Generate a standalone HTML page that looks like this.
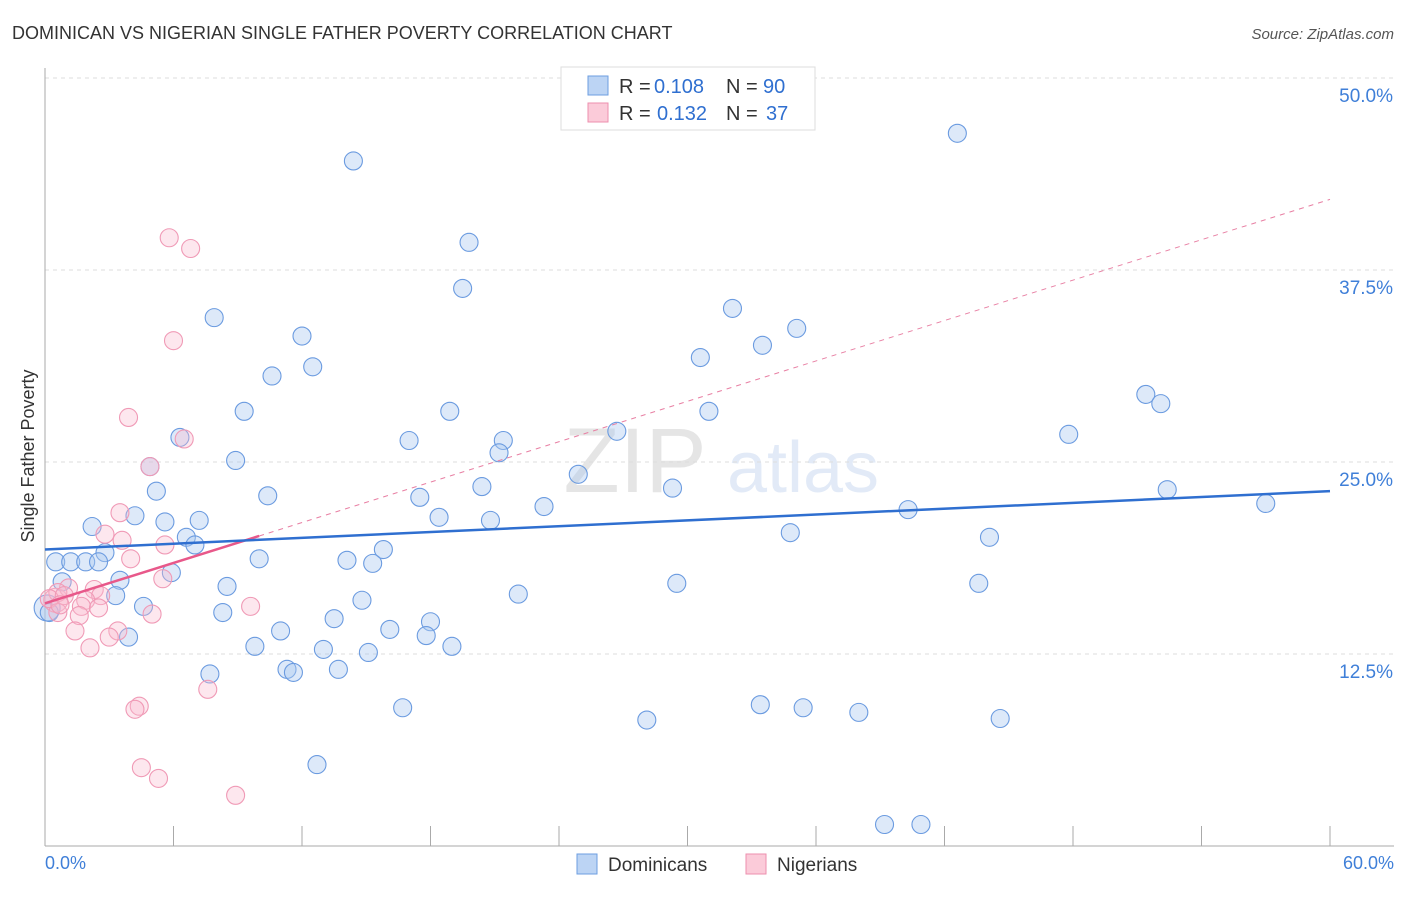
<!DOCTYPE html>
<html><head><meta charset="utf-8">
<style>
body{margin:0;background:#fff;font-family:"Liberation Sans",sans-serif;}
svg text{font-family:"Liberation Sans",sans-serif;}
</style></head>
<body>
<svg id="chart" width="1406" height="892" xmlns="http://www.w3.org/2000/svg">
<text x="12" y="39" font-size="18" fill="#333">DOMINICAN VS NIGERIAN SINGLE FATHER POVERTY CORRELATION CHART</text>
<text x="1394" y="39" font-size="15" fill="#555" font-style="italic" text-anchor="end">Source: ZipAtlas.com</text>
<text x="0" y="0" font-size="18" fill="#333" text-anchor="middle" transform="translate(34,456) rotate(-90)">Single Father Poverty</text>
<g opacity="0.25">
<text x="635" y="492" font-size="92" fill="#999" font-family="Liberation Serif" text-anchor="middle">ZIP</text>
<text x="803" y="492" font-size="72" fill="#8fb0e0" text-anchor="middle">atlas</text>
</g>
<g id="grid"></g><g id="axes"></g><g id="marks"></g>
<g>
<rect x="561" y="67" width="254" height="63" fill="#fff" stroke="#ddd"/>
<rect x="588" y="76" width="20" height="19" fill="#bcd4f4" stroke="#6d9ee0"/>
<rect x="588" y="103" width="20" height="19" fill="#fbcbd9" stroke="#ee8fae"/>
<text x="619" y="93" font-size="20" fill="#333">R =</text>
<text x="654" y="93" font-size="20" fill="#2f6fd0">0.108</text>
<text x="726" y="93" font-size="20" fill="#333">N =</text>
<text x="763" y="93" font-size="20" fill="#2f6fd0">90</text>
<text x="619" y="120" font-size="20" fill="#333">R =</text>
<text x="657" y="120" font-size="20" fill="#2f6fd0">0.132</text>
<text x="726" y="120" font-size="20" fill="#333">N =</text>
<text x="766" y="120" font-size="20" fill="#2f6fd0">37</text>
</g>
<g>
<rect x="577" y="854" width="20" height="20" fill="#bcd4f4" stroke="#6d9ee0"/>
<text x="608" y="871" font-size="19" fill="#333">Dominicans</text>
<rect x="746" y="854" width="20" height="20" fill="#fbcbd9" stroke="#ee8fae"/>
<text x="777" y="871" font-size="19" fill="#333">Nigerians</text>
</g>
</svg>
<script>
const yTicks=[12.5,25.0,37.5,50.0];
const yTickLabels=["12.5%","25.0%","37.5%","50.0%"];
const xTickLabels=["0.0%","60.0%"];
const domX=[0.1,4.9,42.6,14.4,19.8,19.5,7.9,12.0,32.1,35.1,33.5,30.6,12.5,10.6,51.4,52.1,9.3,18.9,31.0,26.7,47.8,17.0,21.4,6.3,21.2,8.9,24.9,20.4,29.3,52.4,5.2,10.4,17.5,23.3,57.0,40.3,4.2,18.4,20.8,5.6,7.2,2.2,34.8,6.6,44.1,7.0,2.8,15.8,10.0,14.1,15.3,0.5,1.2,1.9,2.5,5.9,3.5,8.5,29.5,43.6,0.8,3.3,22.1,14.8,4.6,8.3,0.2,13.5,18.0,11.0,16.1,17.8,3.9,9.8,13.0,19.0,15.1,11.3,11.6,13.7,7.7,16.7,33.4,35.4,28.1,38.0,44.6,12.7,39.2,40.9];
const domY=[15.5,24.7,46.4,44.6,39.3,36.3,34.4,33.2,35.0,33.7,32.6,31.8,31.2,30.6,29.4,28.8,28.3,28.3,28.3,27.0,26.8,26.4,26.4,26.6,25.6,25.1,24.2,23.4,23.3,23.2,23.1,22.8,22.7,22.1,22.3,21.9,21.5,21.4,21.2,21.1,21.2,20.8,20.4,20.1,20.1,19.6,19.1,19.3,18.7,18.6,18.4,18.5,18.5,18.5,18.5,17.8,17.3,16.9,17.1,17.1,17.2,16.3,16.4,16.0,15.6,15.2,15.2,14.8,14.6,14.0,14.1,13.7,13.6,13.0,12.8,13.0,12.6,11.5,11.3,11.5,11.2,9.0,9.2,9.0,8.2,8.7,8.3,5.3,1.4,1.4];
const nigX=[0.5,5.8,6.8,6.0,3.9,6.5,4.9,3.5,2.8,3.6,5.6,4.0,5.5,1.1,2.3,0.6,2.6,1.9,0.2,9.6,1.7,2.5,5.0,1.6,0.6,1.4,3.4,3.0,2.1,7.6,4.4,4.2,4.5,5.3,8.9,0.9,0.7];
const nigY=[16.0,39.6,38.9,32.9,27.9,26.5,24.7,21.7,20.3,19.9,19.6,18.7,17.4,16.8,16.7,16.5,16.3,16.0,16.1,15.6,15.6,15.5,15.1,15.0,15.2,14.0,14.0,13.6,12.9,10.2,9.1,8.9,5.1,4.4,3.3,16.3,15.7];
const domTrend=[19.3,23.1];
const nigTrend=[15.8,42.1];
const NS="http://www.w3.org/2000/svg";
const sx=v=>45+v/60*1285, sy=v=>846-v/50*768;
function mk(tag,attrs,parent){const e=document.createElementNS(NS,tag);for(const k in attrs)e.setAttribute(k,attrs[k]);document.getElementById(parent).appendChild(e);return e;}
yTicks.forEach((t,i)=>{
 const g=mk('line',{x1:45,x2:1394,y1:sy(t),y2:sy(t),stroke:'#ddd','stroke-dasharray':'4,4'},'grid');
 
 
 const l=mk('text',{x:1393,y:sy(t)+24,'font-size':19,fill:'#3f7fd8','text-anchor':'end'},'grid');
 l.textContent=yTickLabels[i];
 
 
});
const ax=mk('line',{x1:45,x2:45,y1:68,y2:846,stroke:'#aaa'},'axes');


const bx=mk('line',{x1:45,x2:1394,y1:846,y2:846,stroke:'#aaa'},'axes');


for(let i=0;i<=10;i++){const t=mk('line',{x1:sx(i*6),x2:sx(i*6),y1:826,y2:846,stroke:'#aaa'},'axes');
 
 }
[[0,'start',45],[60,'end',1394]].forEach((d,i)=>{const t=mk('text',{x:d[2],y:869,'font-size':18,fill:'#3f7fd8','text-anchor':d[1]},'axes');t.textContent=xTickLabels[i];
 
 });
domX.forEach((x,i)=>{const c=mk('circle',{cx:sx(x),cy:sy(domY[i]),r:i===0?13:9,fill:'rgba(170,200,240,0.4)',stroke:'#6b9be0','stroke-width':1.1},'marks');
 
 });
nigX.forEach((x,i)=>{const c=mk('circle',{cx:sx(x),cy:sy(nigY[i]),r:i===0?12:9,fill:'rgba(248,185,205,0.35)',stroke:'#f09ab6','stroke-width':1.1},'marks');
 
 });
const nigAt=x=>nigTrend[0]+(nigTrend[1]-nigTrend[0])*x/60;
const pd=mk('line',{x1:sx(10),y1:sy(nigAt(10)),x2:sx(60),y2:sy(nigAt(60)),stroke:'#e87fa3','stroke-dasharray':'5,5','stroke-width':1},'marks');


const ps=mk('line',{x1:sx(0),y1:sy(nigAt(0)),x2:sx(10),y2:sy(nigAt(10)),stroke:'#e8588a','stroke-width':2.5},'marks');


const bl=mk('line',{x1:sx(0),y1:sy(domTrend[0]),x2:sx(60),y2:sy(domTrend[1]),stroke:'#2f6fd0','stroke-width':2.5},'marks');


</script>
</body></html>
